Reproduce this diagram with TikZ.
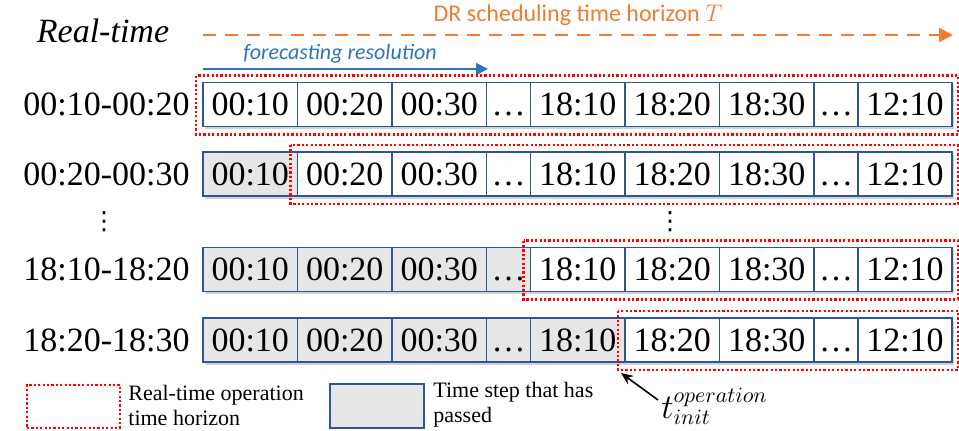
\documentclass[tikz,border=0pt]{standalone}
\usepackage{fontspec}
\setmainfont{Liberation Serif}
\newfontfamily\tnr{Liberation Serif}
\newfontfamily\calibri{Carlito}
\newfontfamily\dejavu{DejaVu Sans}
\usetikzlibrary{arrows.meta,calc,shadows}
\definecolor{cellblue}{HTML}{2F5597}
\definecolor{passedgray}{HTML}{E7E6E6}
\definecolor{hzorange}{HTML}{ED7D31}
\definecolor{resblue}{HTML}{2E75B6}
\definecolor{opred}{HTML}{FF0000}

\begin{document}
\begin{tikzpicture}[x=0.5pt, y=-0.5pt,
    cell/.style={draw=cellblue, line width=0.9pt, inner sep=0pt,
        minimum height=22pt, text height=11.8pt, text depth=0.5pt,
        font=\tnr\fontsize{17}{20}\selectfont,
        drop shadow={shadow xshift=0.8pt, shadow yshift=-1.3pt,
            fill=black!35, opacity=0.5}},
    opbox/.style={draw=opred, line width=1.3pt,
        dash pattern=on 1.1pt off 1.1pt},
    rowlab/.style={inner sep=0pt, font=\tnr\fontsize{17}{20}\selectfont},
    horizon/.style={draw=hzorange, line width=1.3pt,
        dash pattern=on 6.5pt off 4.5pt,
        -{Triangle[length=7pt,width=7pt]}},
    resarrow/.style={draw=resblue, line width=0.9pt,
        -{Triangle[length=6pt,width=6pt]}},
    legtext/.style={inner sep=0pt, align=left,
        font=\tnr\fontsize{11}{12.5}\selectfont},
    pointer/.style={draw=black, line width=0.8pt,
        -{Stealth[length=6pt,width=5pt]}},
    vdot/.style={inner sep=0pt, font=\dejavu\fontsize{12.5}{15}\selectfont}
]
    \useasboundingbox (0,0) rectangle (959,431);

    % header
    \node[inner sep=0pt, font=\tnr\fontsize{17}{20}\selectfont\itshape]
        (realtime) at (103,31) {Real-time};
    \coordinate (hzstart) at (203,35);
    \coordinate (hzend) at (953,35);
    \draw[horizon] (hzstart) -- (hzend);
    \node[inner sep=0pt, text=hzorange, font=\calibri\fontsize{12}{14}\selectfont]
        (hzlab) at (578,15) {DR scheduling time horizon $T$};
    \coordinate (resstart) at (203,69);
    \coordinate (resend) at (488,69);
    \draw[resarrow] (resstart) -- (resend);
    \node[inner sep=0pt, text=resblue, font=\calibri\fontsize{11}{13}\selectfont\itshape]
        (reslab) at (340,54) {forecasting resolution};

    % rows of time steps
    \foreach \row/\cy/\ng/\tlab in {1/104.5/0/00:10-00:20, 2/174/1/00:20-00:30,
            3/269.5/4/18:10-18:20, 4/340/5/18:20-18:30}{
        \node[rowlab, anchor=east] (lab\row) at (190,\cy) {\tlab};
        \foreach \col/\cx/\w/\txt in {1/250.25/47.25/00:10, 2/344.75/47.25/00:20,
                3/439.25/47.25/00:30, 4/508.5/22/\ldots, 5/577.75/47.25/18:10,
                6/672.25/47.25/18:20, 7/766.75/47.25/18:30, 8/836/22/\ldots,
                9/905/47/12:10}{
            \ifnum\col>\ng \def\fc{white}\else \def\fc{passedgray}\fi
            \node[cell, fill=\fc, minimum width=\w pt] (c\row-\col) at (\cx,\cy) {\txt};
        }
        \pgfmathtruncatemacro\fw{\ng+1}
        \draw[opbox] ($(c\row-\fw.north west)+(-6,-6)$)
            rectangle ($(c\row-9.south east)+(5,7)$);
    }

    \node[vdot] (vd1) at (104,222) {⋮};
    \node[vdot] (vd2) at (670,222) {⋮};

    % t_init
    \node[inner sep=0pt, anchor=west, font=\fontsize{16}{18}\selectfont]
        (tinit) at (661,406) {$t^{operation}_{init}$};
    \coordinate (tinitpt) at (621,373);
    \draw[pointer] ([shift={(-3,-6)}]tinit.west) -- (tinitpt);

    % legend
    \node[opbox, inner sep=0pt, minimum width=46.5pt, minimum height=21.5pt]
        (legop) at (73.5,406.5) {};
    \node[legtext, anchor=west] (legoptext) at (128,405)
        {Real-time operation\\time horizon};
    \node[draw=cellblue, fill=passedgray, line width=0.9pt, inner sep=0pt,
        minimum width=47pt, minimum height=22pt] (legpass) at (377,406) {};
    \node[legtext, anchor=west] (legpasstext) at (433,405)
        {Time step that has\\passed};
\end{tikzpicture}
\end{document}
